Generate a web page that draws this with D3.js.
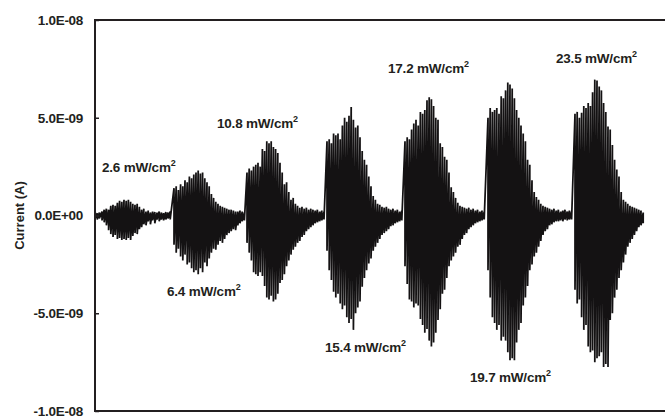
<!DOCTYPE html>
<html>
<head>
<meta charset="utf-8">
<script src="https://cdn.jsdelivr.net/npm/d3@7"></script>
<style>
  html, body { margin: 0; padding: 0; background: #fff; }
  svg { display: block; }
  text { font-family: "Liberation Sans", Arial, sans-serif; font-weight: bold; fill: #231f20; }
</style>
</head>
<body>
<svg id="chart" width="665" height="416"></svg>
<script>
// ---- data (current in nA; time in arbitrary units, 2.2 units per sample) ----
const yTicks = [-1e-8, -5e-9, 0, 5e-9, 1e-8];
const yTickLabels = ["-1.0E-08", "-5.0E-09", "0.0E+00", "5.0E-09", "1.0E-08"];
const intensities = ["2.6", "6.4", "10.8", "15.4", "17.2", "19.7", "23.5"];
const labelTimes = [7, 72, 122, 230, 293, 375, 461];
const labelValues = [2.2, -4.1, 4.5, -7.0, 7.3, -8.5, 7.8];
const burstStarts = [7, 79, 152, 232, 310, 393, 480];
const sampleStep = 2.2;

const leadUp = [0.15, 0.12, 0.15];
const leadDown = [-0.15, -0.2, -0.15];

const up1 = [0.2,0.3,0.35,0.3,0.5,0.55,0.5,0.65,0.75,0.7,0.8,0.75,0.8,0.7,0.6,0.55,0.6,0.45,0.3,0.35,0.2,0.25,0.15,0.2,0.18,0.15,0.2,0.15,0.12,0.18,0.15,0.2];
const down1 = [-0.25,-0.35,-0.5,-0.75,-0.95,-1.1,-1.0,-1.2,-1.15,-1.25,-1.2,-1.25,-1.15,-1.25,-1.05,-0.9,-0.95,-0.7,-0.6,-0.45,-0.5,-0.3,-0.45,-0.25,-0.4,-0.2,-0.3,-0.2,-0.25,-0.2,-0.15,-0.2];

const up2 = [1.4,1.5,1.3,1.6,1.5,1.8,1.7,2.0,1.9,2.1,2.2,2.3,2.15,2.2,1.9,1.7,1.5,1.1,0.9,0.7,0.6,0.5,0.45,0.4,0.35,0.3,0.3,0.25,0.2,0.2,0.25,0.2,0.15];
const down2 = [-1.5,-1.9,-1.7,-2.1,-2.3,-2.0,-2.5,-2.4,-2.7,-2.9,-2.8,-3.0,-2.7,-2.9,-2.4,-2.6,-2.2,-1.9,-1.7,-1.75,-1.5,-1.3,-1.4,-1.2,-1.0,-0.9,-0.8,-0.7,-0.75,-0.5,-0.4,-0.3,-0.25];

const up3 = [2.2,2.4,2.3,2.5,2.6,2.7,2.5,3.4,3.3,3.8,3.7,3.8,3.5,3.4,3.2,2.7,2.2,1.6,1.7,1.2,0.8,0.9,0.6,0.5,0.4,0.45,0.35,0.4,0.3,0.35,0.3,0.25,0.3,0.2,0.25,0.2];
const down3 = [-1.4,-1.9,-2.3,-2.9,-3.0,-3.1,-2.9,-3.1,-3.6,-4.2,-4.3,-4.1,-4.4,-4.3,-4.0,-3.45,-3.3,-3.0,-2.6,-2.3,-2.0,-1.75,-1.6,-1.4,-1.3,-1.1,-1.0,-0.8,-0.7,-0.6,-0.5,-0.4,-0.35,-0.3,-0.25,-0.2];

const up4 = [3.8,3.9,3.7,4.2,4.1,4.2,3.9,4.6,5.0,4.8,5.1,5.55,4.9,4.5,4.6,4.0,3.3,2.85,2.6,2.0,1.5,1.0,0.8,0.6,0.55,0.45,0.4,0.45,0.35,0.3,0.35,0.25,0.3,0.2,0.25];
const down4 = [-1.8,-2.8,-3.3,-3.9,-4.2,-4.0,-4.5,-4.8,-4.6,-5.2,-5.5,-5.3,-5.85,-5.0,-4.7,-4.4,-3.65,-3.2,-2.8,-2.45,-2.2,-1.8,-1.6,-1.4,-1.2,-1.0,-0.9,-0.8,-0.7,-0.55,-0.5,-0.4,-0.35,-0.3,-0.25];

const up5 = [3.8,4.0,3.9,4.4,4.7,4.9,4.6,5.3,5.2,5.4,5.9,6.05,5.95,5.6,5.0,4.9,3.7,3.5,3.0,2.85,2.2,1.45,1.2,0.9,0.65,0.5,0.45,0.4,0.35,0.4,0.3,0.35,0.25,0.3,0.2,0.25,0.2];
const down5 = [-2.6,-3.5,-4.3,-4.4,-4.7,-4.5,-4.6,-5.3,-5.6,-6.0,-5.8,-6.4,-6.7,-6.5,-6.0,-5.35,-4.8,-4.0,-3.8,-3.2,-2.6,-2.3,-2.1,-1.9,-1.6,-1.5,-1.2,-1.0,-0.9,-0.7,-0.6,-0.5,-0.4,-0.35,-0.3,-0.25,-0.2];

const up6 = [5.0,5.5,5.3,5.4,5.5,5.2,6.1,6.0,6.4,6.8,6.7,6.5,6.0,5.4,5.0,4.6,4.2,3.8,2.85,2.6,1.8,1.2,0.95,0.8,0.6,0.5,0.45,0.4,0.35,0.3,0.35,0.25,0.3,0.2,0.25,0.3,0.2,0.25,0.2];
const down6 = [-2.8,-4.2,-5.2,-5.5,-5.85,-5.6,-6.4,-6.2,-6.4,-7.0,-7.4,-7.3,-7.4,-6.5,-5.85,-5.5,-4.6,-4.2,-3.6,-2.8,-2.5,-2.1,-1.9,-1.6,-1.3,-1.0,-0.8,-0.7,-0.5,-0.45,-0.35,-0.3,-0.3,-0.25,-0.3,-0.2,-0.25,-0.2,-0.2];

const up7 = [5.2,5.3,5.0,5.25,5.6,5.5,5.75,5.6,6.3,6.95,6.9,6.6,6.4,5.75,5.3,4.55,4.4,3.6,2.85,2.35,2.0,1.2,0.8,0.7,0.6,0.5,0.45,0.4,0.35,0.3,0.25,0.15];
const down7 = [-3.8,-4.5,-4.3,-5.2,-5.85,-5.6,-6.7,-7.0,-6.9,-7.5,-7.3,-7.2,-7.0,-7.75,-7.6,-7.75,-5.35,-5.0,-4.2,-3.8,-3.2,-2.8,-2.4,-2.0,-1.6,-1.4,-1.2,-1.0,-0.8,-0.6,-0.5,-0.4];

const burstUps = [up1, up2, up3, up4, up5, up6, up7];
const burstDowns = [down1, down2, down3, down4, down5, down6, down7];

(function () {
// ---- build the sample sequence ----
const samples = [];
leadUp.forEach((u, i) => {
  const t = i * sampleStep;
  samples.push([t, u * 1e-9], [t, leadDown[i] * 1e-9]);
});
burstUps.forEach((ups, b) => {
  ups.forEach((u, i) => {
    const t = burstStarts[b] + i * sampleStep;
    samples.push([t, u * 1e-9], [t, burstDowns[b][i] * 1e-9]);
  });
});

// ---- layout ----
const svg = d3.select("#chart");
const mLeft = 95, mTop = 20, mBottom = 411, mRight = 665;
const x = d3.scaleLinear().domain([0, 570]).range([mLeft, mRight]);
const y = d3.scaleLinear().domain([-1e-8, 1e-8]).range([mBottom, mTop]);

// signal
const line = d3.line().x(d => x(d[0])).y(d => y(d[1]));
svg.append("path")
  .datum(samples)
  .attr("d", line)
  .attr("fill", "none")
  .attr("stroke", "#141213")
  .attr("stroke-width", 1.75)
  .attr("stroke-linejoin", "bevel");

// frame (right edge lies outside the window)
svg.append("path")
  .attr("d", `M${mRight + 20},${mTop}H${mLeft}V${mBottom}H${mRight + 20}`)
  .attr("fill", "none")
  .attr("stroke", "#231f20")
  .attr("stroke-width", 2);

// y axis
const yAxis = d3.axisLeft(y)
  .tickValues(yTicks)
  .tickFormat((d, i) => yTickLabels[i])
  .tickSizeInner(-4)
  .tickSizeOuter(0)
  .tickPadding(12);
const ga = svg.append("g").attr("transform", `translate(${mLeft},0)`).call(yAxis);
ga.select(".domain").remove();
ga.selectAll(".tick line").attr("stroke", "#231f20").attr("stroke-width", 1.5);
ga.selectAll(".tick text")
  .attr("font-family", "'Liberation Sans', Arial, sans-serif")
  .attr("font-weight", "bold")
  .attr("font-size", 13.5)
  .attr("fill", "#231f20")
  .attr("letter-spacing", -0.3);

// axis title
svg.append("text")
  .attr("transform", `translate(24,${(mTop + mBottom) / 2}) rotate(-90)`)
  .attr("text-anchor", "middle")
  .attr("font-size", 13)
  .text("Current (A)");

// intensity labels
intensities.forEach((s, i) => {
  const t = svg.append("text")
    .attr("x", x(labelTimes[i]))
    .attr("y", y(labelValues[i] * 1e-9))
    .attr("font-size", 13.5)
    .attr("letter-spacing", -0.2);
  t.append("tspan").text(s + " mW/cm");
  t.append("tspan").attr("dy", -6).attr("font-size", 9).text("2");
});
})();
</script>
</body>
</html>
